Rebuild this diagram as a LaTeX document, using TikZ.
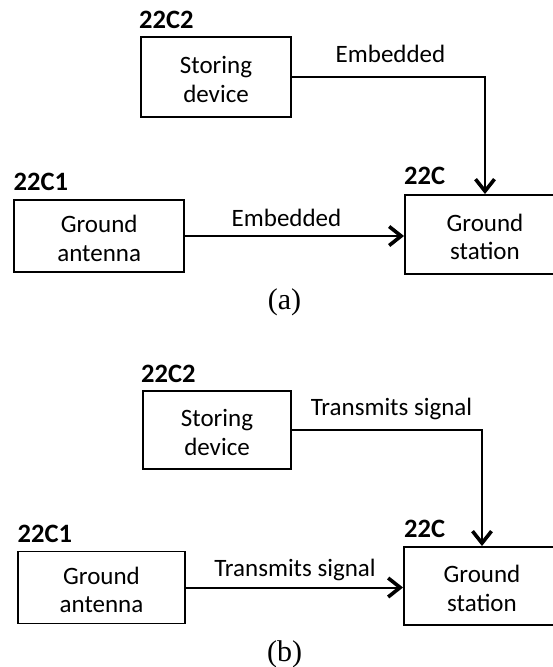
\documentclass[tikz,border=0pt]{standalone}
\usepackage{fontspec}
\setmainfont{Carlito}
\newfontfamily\capfont{Liberation Serif}
\usetikzlibrary{arrows.meta}
\newcommand{\upstrut}{\rule{0pt}{22pt}}
\begin{document}
\begin{tikzpicture}[x=1pt,y=-1pt,
 blk/.style={draw, line width=1.9pt, inner sep=0pt, align=center, font=\fontsize{25}{28.5}\selectfont},
 tag/.style={anchor=base west, inner sep=0pt, font=\fontsize{26.5}{30}\selectfont\bfseries},
 elab/.style={anchor=base, inner sep=0pt, font=\fontsize{25}{30}\selectfont},
 figcap/.style={anchor=base, inner sep=0pt, font=\capfont\fontsize{30}{36}\selectfont},
 conn/.style={line width=2pt, -{Straight Barb[length=12pt,width=19pt,line width=3.6pt]}}
]
\useasboundingbox (0,0) rectangle (553,667);
\clip (0,0) rectangle (553,667);
% ---------- (a) ----------
\node[blk, minimum width=150pt, minimum height=80pt] (sdA) at (216,77) {\upstrut Storing\\device};
\node[blk, minimum width=170pt, minimum height=72pt] (gaA) at (99.2,236) {\upstrut Ground\\antenna};
\node[blk, minimum width=160pt, minimum height=79pt] (gsA) at (485,234.5) {\upstrut Ground\\station};
\node[tag] (tsdA) at (139,28) {22C2};
\node[tag] (tgaA) at (13.5,190) {22C1};
\node[tag] (tgsA) at (404,184) {22C};
\draw[conn] (sdA.east) -| (gsA.north);
\draw[conn] (gaA.east) -- (gsA.west |- gaA.east);
\node[elab] (e1A) at (390.5,62) {Embedded};
\node[elab] (e2A) at (286.5,226.7) {Embedded};
\node[figcap] (capA) at (284.5,309.5) {(a)};
% ---------- (b) ----------
\node[blk, minimum width=148pt, minimum height=78pt] (sdB) at (217,430) {\upstrut Storing\\device};
\node[blk, minimum width=167pt, minimum height=72pt] (gaB) at (101.5,587.5) {\upstrut Ground\\antenna};
\node[blk, minimum width=156pt, minimum height=78pt] (gsB) at (482,586) {\upstrut Ground\\station};
\node[tag] (tsdB) at (141,382) {22C2};
\node[tag] (tgaB) at (17.5,542) {22C1};
\node[tag] (tgsB) at (404,537) {22C};
\draw[conn] (sdB.east) -| (gsB.north);
\draw[conn] (gaB.east) -- (gsB.west |- gaB.east);
\node[elab] (e1B) at (391.5,415) {Transmits signal};
\node[elab] (e2B) at (295,576.5) {Transmits signal};
\node[figcap] (capB) at (284.5,661) {(b)};
\end{tikzpicture}
\end{document}
